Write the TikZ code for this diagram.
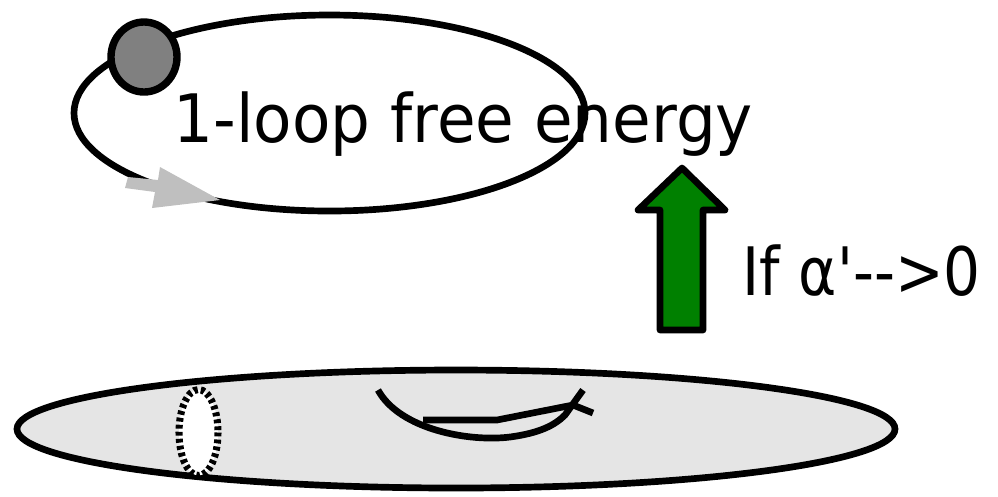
\documentclass[tikz,border=0pt]{standalone}
\usepackage{fontspec}
\newfontfamily\labelfont{DejaVu Sans}[FakeStretch=0.94,Ligatures=TeXOff]
\newfontfamily\limitfont{DejaVu Sans}[FakeStretch=0.87,Ligatures=TeXOff]
\tikzset{
  label text/.style={inner sep=0pt, anchor=base west},
  thick line/.style={line width=1.9pt}
}

\begin{document}
\begin{tikzpicture}[x=0.01cm,y=-0.01cm]
\useasboundingbox (0,0) rectangle (998,496);
% top: loop with a marked point
\draw[thick line] (329.5,113) ellipse [x radius=255.5, y radius=98];
\fill[black!25] (128,177) -- (158,180) -- (160,167) -- (220,200) -- (152,208) -- (155,192) -- (125,188) -- cycle;
\draw[line width=2.1pt, fill=black!50] (144,57) ellipse [x radius=33, y radius=35];
\node[label text, font=\labelfont\fontsize{19}{23}\selectfont] (title) at (173,142) {1-loop free energy};
% arrow and limit
\draw[line width=1.9pt, line join=round, fill=green!50!black] (682,168) -- (725,210) -- (703,210) -- (703,330) -- (660,330) -- (660,210) -- (638,210) -- cycle;
\node[label text, font=\limitfont\fontsize{19}{23}\selectfont] (limit) at (742,295) {If α'-->0};
% bottom: torus
\draw[thick line, fill=black!10] (456,429) ellipse [x radius=439, y radius=59];
\draw[line width=2pt, fill=white, dash pattern=on 1.1pt off 0.9pt] (198.5,432.5) ellipse [x radius=19.5, y radius=43];
\draw[thick line] (378,390) .. controls (400,430) and (470,442) .. (510,437) .. controls (540,433) and (555,425) .. (565,415) -- (583,390);
\draw[thick line] (423,420) -- (497,420) -- (573,405) -- (593,413);
\end{tikzpicture}
\end{document}
